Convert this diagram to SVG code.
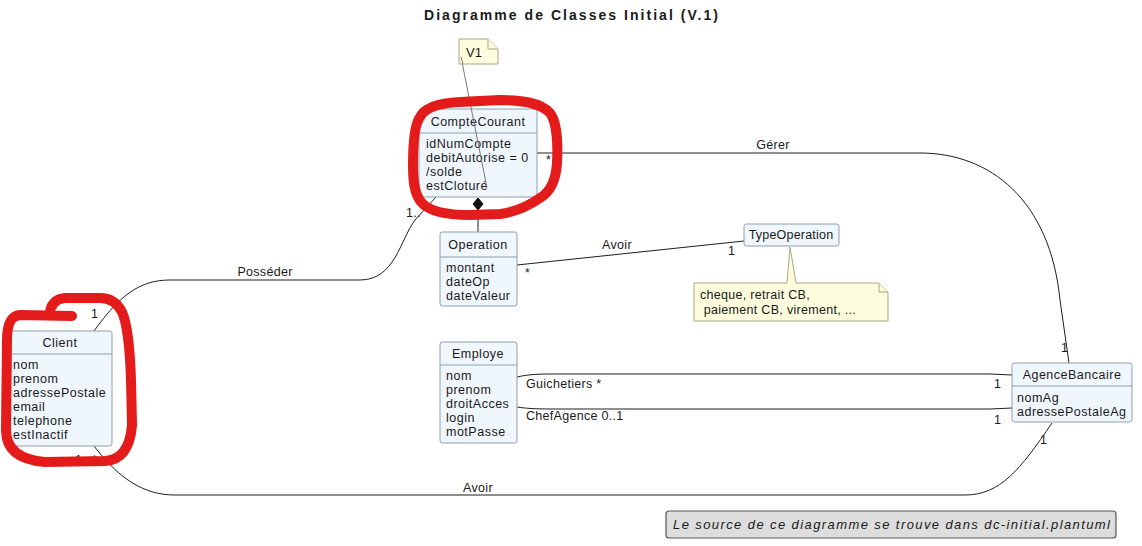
<svg xmlns="http://www.w3.org/2000/svg" width="1142" height="546" viewBox="0 0 1142 546">
<style>
text{font-family:"Liberation Sans",Arial,sans-serif;fill:#1a1a1a}
.cls rect{fill:#EFF6FC;stroke:#8E9FAE;stroke-width:1}
.cls line{stroke:#8E9FAE;stroke-width:1}
.hd{font-size:12.5px;letter-spacing:0.5px;text-anchor:middle}
.at{font-size:12.5px;letter-spacing:0.5px}
.lbl{font-size:12.5px;letter-spacing:0.3px}
.note path{fill:#FDFDDE;stroke:#A8A888;stroke-width:1}
.con path,.con line{fill:none;stroke:#1e1e1e;stroke-width:1}
.red{fill:none;stroke:#E41B1B;stroke-width:10;stroke-linecap:round;stroke-linejoin:round}
</style>
<rect width="1142" height="546" fill="#ffffff"/>
<text x="571" y="20" font-size="14" font-weight="bold" text-anchor="middle" textLength="294" lengthAdjust="spacing">Diagramme de Classes Initial (V.1)</text>

<g id="connectors" class="con">
  <line x1="478" y1="210" x2="478" y2="232"/>
  <path d="M478,198 L483,204 L478,210 L473,204 Z" style="fill:#111;stroke:#111"/>
  <path d="M94,331 C120,295 140,280 170,280 L360,280 C395,280 400,240 415,220 L436,197"/>
  <path d="M517,265 L744,241"/>
  <path d="M537,153 L920,153 C990,153 1050,200 1060,300 L1069,363"/>
  <path d="M517,377 C530,374 540,374 560,374 L990,374 L1012,375"/>
  <path d="M517,407 C530,409 540,409 560,409 L990,409 L1012,408"/>
  <path d="M94,446 C120,480 145,495 175,495 L965,495 C1000,495 1020,470 1052,423"/>
  <text class="lbl" x="265" y="276" text-anchor="middle">Posséder</text>
  <text class="lbl" x="91" y="318">1</text>
  <text class="lbl" x="406" y="217">1..</text>
  <text class="lbl" x="617" y="249" text-anchor="middle">Avoir</text>
  <text class="lbl" x="525" y="277">*</text>
  <text class="lbl" x="728" y="255">1</text>
  <text class="lbl" x="773" y="149" text-anchor="middle">Gérer</text>
  <text class="lbl" x="546" y="164">*</text>
  <text class="lbl" x="1061" y="352">1</text>
  <text class="lbl" x="526" y="388">Guichetiers *</text>
  <text class="lbl" x="994" y="388">1</text>
  <text class="lbl" x="526" y="420">ChefAgence 0..1</text>
  <text class="lbl" x="994" y="424">1</text>
  <text class="lbl" x="478" y="492" text-anchor="middle">Avoir</text>
  <text class="lbl" x="75" y="464">1</text>
  <text class="lbl" x="92" y="464">*</text>
  <text class="lbl" x="1040" y="444">1</text>
</g>

<g id="CompteCourant" class="cls">
  <rect x="419" y="109" width="118" height="88" rx="2.5"/>
  <line x1="419" y1="133" x2="537" y2="133"/>
  <text class="hd" x="478" y="126">CompteCourant</text>
  <text class="at" x="426" y="148">idNumCompte</text>
  <text class="at" x="426" y="162">debitAutorise = 0</text>
  <text class="at" x="426" y="176">/solde</text>
  <text class="at" x="426" y="190">estCloturé</text>
</g>

<g id="noteV1" class="note">
  <line x1="461" y1="57" x2="487" y2="188" stroke="#7a7a7a" stroke-width="1"/>
  <path d="M459,39 L488,39 L498,49 L498,64 L459,64 Z"/>
  <path d="M488,39 L488,49 L498,49"/>
  <line x1="461" y1="57" x2="463" y2="64" stroke="#7a7a7a" stroke-width="1"/>
  <text x="466" y="57" font-size="13">V1</text>
</g>

<g id="Operation" class="cls">
  <rect x="440" y="232" width="77" height="74" rx="2.5"/>
  <line x1="440" y1="257" x2="517" y2="257"/>
  <text class="hd" x="478" y="249">Operation</text>
  <text class="at" x="446" y="272">montant</text>
  <text class="at" x="446" y="286">dateOp</text>
  <text class="at" x="446" y="300">dateValeur</text>
</g>

<g id="TypeOperation" class="cls">
  <rect x="744" y="224" width="95" height="22" rx="2.5"/>
  <text class="hd" x="791" y="239" style="letter-spacing:0.2px">TypeOperation</text>
</g>

<g id="noteTypeOperation" class="note">
  <path d="M694,283 L787,283 L790,247 L796,283 L879,283 L888,292 L888,321 L694,321 Z"/>
  <path d="M879,283 L879,292 L888,292"/>
  <text x="700" y="299" font-size="12.5" letter-spacing="0.3">cheque, retrait CB,</text>
  <text x="700" y="314" font-size="12.5" letter-spacing="0.3" xml:space="preserve"> paiement CB, virement, ...</text>
</g>

<g id="Client" class="cls">
  <rect x="7" y="331" width="105" height="115" rx="2.5"/>
  <line x1="7" y1="354" x2="112" y2="354"/>
  <text class="hd" x="60" y="347">Client</text>
  <text class="at" x="13" y="369">nom</text>
  <text class="at" x="13" y="383">prenom</text>
  <text class="at" x="13" y="397">adressePostale</text>
  <text class="at" x="13" y="411">email</text>
  <text class="at" x="13" y="425">telephone</text>
  <text class="at" x="13" y="439">estInactif</text>
</g>

<g id="Employe" class="cls">
  <rect x="440" y="342" width="77" height="101" rx="2.5"/>
  <line x1="440" y1="365" x2="517" y2="365"/>
  <text class="hd" x="478" y="358">Employe</text>
  <text class="at" x="446" y="380">nom</text>
  <text class="at" x="446" y="394">prenom</text>
  <text class="at" x="446" y="408">droitAcces</text>
  <text class="at" x="446" y="422">login</text>
  <text class="at" x="446" y="436">motPasse</text>
</g>

<g id="AgenceBancaire" class="cls">
  <rect x="1012" y="363" width="120" height="59" rx="2.5"/>
  <line x1="1012" y1="386" x2="1132" y2="386"/>
  <text class="hd" x="1072" y="379">AgenceBancaire</text>
  <text class="at" x="1017" y="402">nomAg</text>
  <text class="at" x="1017" y="416">adressePostaleAg</text>
</g>

<g id="footer">
  <rect x="666" y="511" width="450" height="27" rx="3" fill="#DDDDDD" stroke="#555555" stroke-width="1.2"/>
  <text x="673" y="529" font-size="13" font-style="italic" textLength="437" lengthAdjust="spacing">Le source de ce diagramme se trouve dans dc-initial.plantuml</text>
</g>

<g id="annotations">
  <path class="red" d="M420,117 C425,107 440,103 460,102 L500,100 C520,100 540,102 550,113 C557,122 558,145 557,163 C556,180 550,192 540,198 C530,205 515,212 500,214 L470,215 C450,215 430,212 422,203 C414,195 413,180 413,165 C413,145 414,125 420,117 Z"/>
  <path class="red" d="M72,316 L20,315 C10,316 7,325 7,340 L6,430 C6,450 20,460 45,462 L105,461 C120,460 130,450 132,425 L131,380 C130,350 128,325 122,312 C117,302 110,298 100,298 L65,298 C55,299 50,305 50,314"/>
</g>
</svg>
